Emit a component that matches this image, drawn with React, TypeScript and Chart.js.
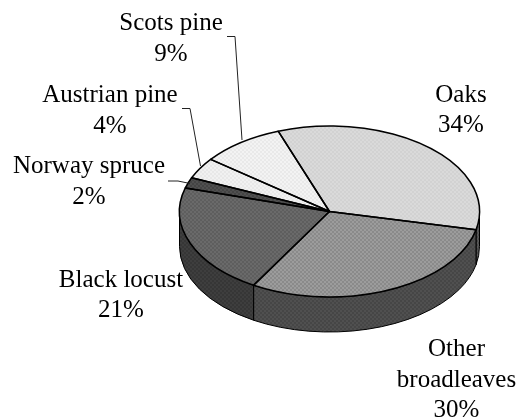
import React, { useEffect, useRef } from "react";
import { Chart, registerables } from "chart.js";

Chart.register(...registerables);

const categories = ["Oaks", "Other broadleaves", "Black locust", "Norway spruce", "Austrian pine", "Scots pine"];
const shares = [34, 30, 21, 2, 4, 9];
const tickLabels = ["34%", "30%", "21%", "2%", "4%", "9%"];

const topFill = [
  ["#dadada", "#d2d2d2"],
  ["#9c9c9c", "#8a8a8a"],
  ["#6a6a6a", "#5e5e5e"],
  ["#505050", "#444444"],
  ["#f1f1f1", "#e8e8e8"],
  ["#f3f3f3", "#e9e9e9"],
];
const sideFill = [
  ["#5a5a5a", "#4a4a4a"],
  ["#505050", "#464646"],
  ["#3e3e3e", "#363636"],
  ["#333333", "#333333"],
  ["#555555", "#555555"],
  ["#555555", "#555555"],
];

const labelLayout = [
  { x: 461, lines: [["Oaks", 102]], pct: 132 },
  { x: 456.5, lines: [["Other", 356], ["broadleaves", 387]], pct: 417 },
  { x: 121, lines: [["Black locust", 287]], pct: 317 },
  { x: 89, lines: [["Norway spruce", 173]], pct: 204 },
  { x: 110, lines: [["Austrian pine", 102]], pct: 133 },
  { x: 171, lines: [["Scots pine", 30]], pct: 61 },
];
const leaders = [
  [[227, 36.5], [235, 36.5], [242, 140]],
  [[182, 108.5], [190, 108.5], [200.5, 166]],
  [[168, 181], [178, 181], [190, 183.5]],
];

const SQUASH = 0.57;
const DEPTH = 35;

function makePattern(ctx: CanvasRenderingContext2D, a: string, b: string, compensate: boolean) {
  const c = document.createElement("canvas");
  c.width = 4;
  c.height = 4;
  const p = c.getContext("2d")!;
  p.fillStyle = a;
  p.fillRect(0, 0, 4, 4);
  p.fillStyle = b;
  p.fillRect(0, 0, 2, 2);
  p.fillRect(2, 2, 2, 2);
  const pat = ctx.createPattern(c, "repeat")!;
  if (compensate) pat.setTransform(new DOMMatrix().scale(1, 1 / SQUASH));
  return pat;
}

const pie3d = {
  id: "pie3d",
  beforeDatasetsDraw(chart: any) {
    const ctx = chart.ctx as CanvasRenderingContext2D;
    const arcs = chart.getDatasetMeta(0).data;
    const { x, y, outerRadius: r } = arcs[0];
    const ry = r * SQUASH;
    arcs.forEach((arc: any, i: number) => {
      const a0 = Math.max(arc.startAngle, 0);
      const a1 = Math.min(arc.endAngle, Math.PI);
      if (a1 <= a0) return;
      ctx.beginPath();
      ctx.ellipse(x, y, r, ry, 0, a0, a1);
      ctx.ellipse(x, y + DEPTH, r, ry, 0, a1, a0, true);
      ctx.closePath();
      ctx.fillStyle = makePattern(ctx, sideFill[i][0], sideFill[i][1], false);
      ctx.fill();
      ctx.strokeStyle = "#000";
      ctx.lineWidth = 1;
      ctx.stroke();
    });
    ctx.save();
    ctx.translate(0, y);
    ctx.scale(1, SQUASH);
    ctx.translate(0, -y);
  },
  afterDatasetsDraw(chart: any) {
    const ctx = chart.ctx as CanvasRenderingContext2D;
    ctx.restore();
    const arcs = chart.getDatasetMeta(0).data;
    ctx.strokeStyle = "#000";
    ctx.lineWidth = 1.5;
    ctx.lineJoin = "round";
    arcs.forEach((arc: any) => {
      const { x, y, outerRadius: r, startAngle, endAngle } = arc;
      ctx.beginPath();
      ctx.moveTo(x, y);
      ctx.ellipse(x, y, r, r * SQUASH, 0, startAngle, endAngle);
      ctx.closePath();
      ctx.stroke();
    });
    ctx.fillStyle = "#000";
    ctx.font = '25px "Liberation Serif"';
    ctx.textAlign = "center";
    ctx.textBaseline = "alphabetic";
    labelLayout.forEach((l, i) => {
      l.lines.forEach(([t, ly]) => ctx.fillText(t as string, l.x, ly as number));
      ctx.fillText(tickLabels[i], l.x, l.pct);
    });
    ctx.strokeStyle = "#222";
    ctx.lineWidth = 1;
    leaders.forEach((pts) => {
      ctx.beginPath();
      pts.forEach(([px, py], k) => (k ? ctx.lineTo(px, py) : ctx.moveTo(px, py)));
      ctx.stroke();
    });
  },
};

export default function App() {
  const ref = useRef<HTMLCanvasElement>(null);
  useEffect(() => {
    document.body.style.margin = "0";
    const ctx = ref.current!.getContext("2d")!;
    const chart = new Chart(ctx, {
      type: "pie",
      data: {
        labels: categories,
        datasets: [
          {
            data: shares,
            borderWidth: 0,
            clip: false,
            backgroundColor: topFill.map(([a, b]) => makePattern(ctx, a, b, true)),
          } as any,
        ],
      },
      options: {
        animation: false,
        responsive: false,
        rotation: -20,
        layout: { padding: { left: 179.5, right: 40.5, top: 61.5, bottom: 57.5 } },
        plugins: { legend: { display: false }, tooltip: { enabled: false } },
      },
      plugins: [pie3d],
    } as any);
    return () => chart.destroy();
  }, []);
  return (
    <div style={{ width: 520, height: 419 }}>
      <canvas ref={ref} width={520} height={419} style={{ display: "block", width: 520, height: 419 }} />
    </div>
  );
}
